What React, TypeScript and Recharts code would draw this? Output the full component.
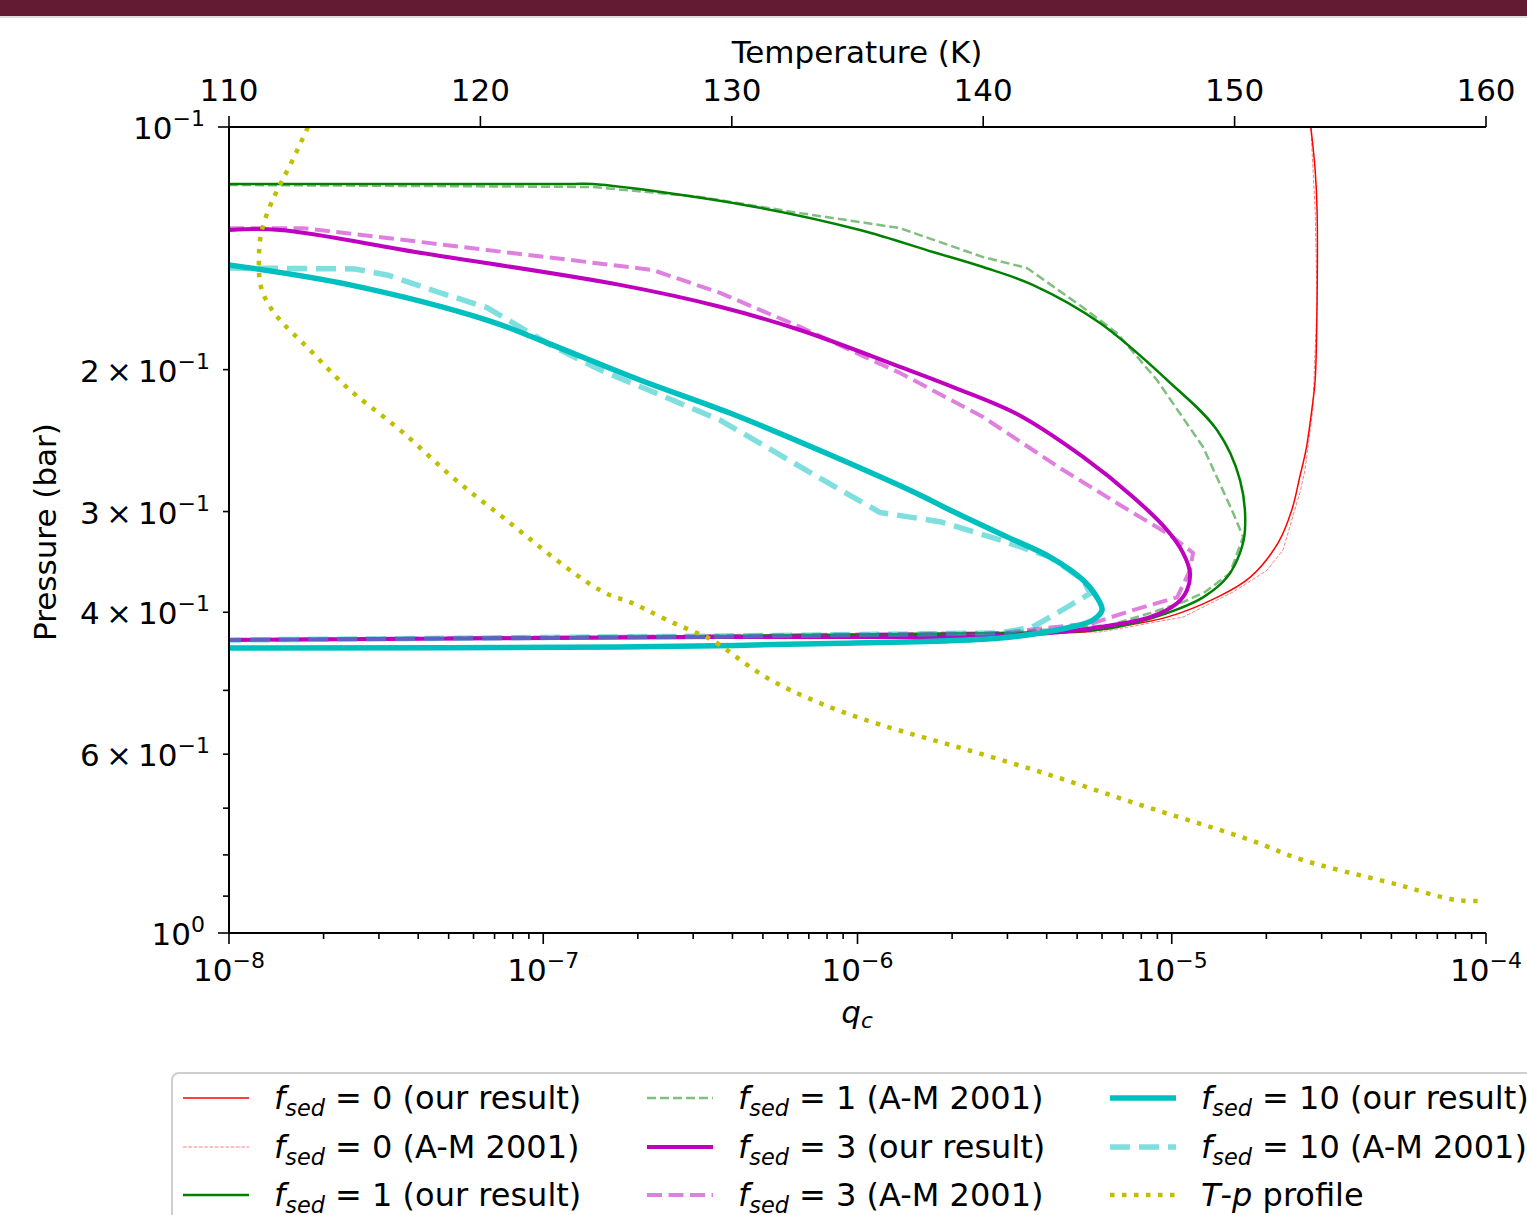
import React from "react";
import { LineChart, Line, XAxis, YAxis } from "recharts";

const FONT = "'DejaVu Sans', sans-serif";

type Pt = [number, number];

// condensate mixing ratio q_c vs pressure (bar)
const fsed0Ours: Pt[] = [
  [2.77e-5, 0.1], [2.86e-5, 0.1131], [2.9e-5, 0.1268], [2.9e-5, 0.1648], [2.86e-5, 0.206],
  [2.79e-5, 0.2245], [2.674e-5, 0.2516], [2.56e-5, 0.2708], [2.41e-5, 0.2987], [2.18e-5, 0.328],
  [1.775e-5, 0.362], [1.393e-5, 0.3833], [9.66e-6, 0.4056], [6.69e-6, 0.4172], [5.22e-6, 0.4232],
  [2.84e-6, 0.4244], [3.65e-7, 0.4281], [1e-8, 0.433],
];
const fsed0AM: Pt[] = [
  [2.77e-5, 0.1], [2.86e-5, 0.1268], [2.9e-5, 0.1648], [2.81e-5, 0.2245], [2.655e-5, 0.2664],
  [2.56e-5, 0.2838], [2.26e-5, 0.3347], [2.01e-5, 0.3548], [1.566e-5, 0.3776], [1.086e-5, 0.4056],
  [5.91e-6, 0.4232], [2.84e-6, 0.4244], [3.65e-7, 0.4281], [1e-8, 0.433],
];
const fsed1Ours: Pt[] = [
  [1e-8, 0.1177], [1.217e-7, 0.1177], [1.439e-7, 0.1177], [4.546e-7, 0.1253], [1.018e-6, 0.1342],
  [1.738e-6, 0.1429], [2.51e-6, 0.1492], [3.61e-6, 0.157], [5.91e-6, 0.1751], [9.66e-6, 0.206],
  [1.393e-5, 0.2377], [1.649e-5, 0.2742], [1.71e-5, 0.3162], [1.649e-5, 0.3376], [1.499e-5, 0.362],
  [1.258e-5, 0.3833], [9.66e-6, 0.401], [6.69e-6, 0.4172], [5.22e-6, 0.422], [2.84e-6, 0.4244],
  [3.65e-7, 0.4281], [1e-8, 0.433],
];
const fsed1AM: Pt[] = [
  [1e-8, 0.118], [1.439e-7, 0.1187], [3.155e-7, 0.1221], [6.56e-7, 0.1279], [1.018e-6, 0.1312],
  [1.365e-6, 0.1335], [2.51e-6, 0.145], [3.46e-6, 0.1496], [5.22e-6, 0.1675], [6.69e-6, 0.1801],
  [8.97e-6, 0.206], [1.258e-5, 0.2495], [1.566e-5, 0.3008], [1.686e-5, 0.3225],
  [1.532e-5, 0.3578], [1.276e-5, 0.3776], [1.086e-5, 0.3885], [8.53e-6, 0.401], [6.36e-6, 0.4149],
  [2.84e-6, 0.4244], [3.65e-7, 0.4281], [1e-8, 0.433],
];
const fsed3Ours: Pt[] = [
  [1e-8, 0.1342], [1.453e-8, 0.1342], [4.055e-8, 0.1432], [1.754e-7, 0.157], [3.65e-7, 0.1671],
  [6.56e-7, 0.1786], [1.365e-6, 0.1984], [1.969e-6, 0.2095], [3.218e-6, 0.227], [5.22e-6, 0.2566],
  [7.53e-6, 0.2877], [9.66e-6, 0.3162], [1.086e-5, 0.3376], [1.143e-5, 0.3578], [1.118e-5, 0.3756],
  [1.04e-5, 0.3898], [8.53e-6, 0.4056], [5.91e-6, 0.4172], [4.1e-6, 0.4244], [2.84e-6, 0.4281],
  [3.65e-7, 0.4293], [1e-8, 0.433],
];
const fsed3AM: Pt[] = [
  [1e-8, 0.1335], [1.72e-8, 0.1335], [3.184e-8, 0.1373], [6.62e-8, 0.1421], [1.987e-7, 0.1496],
  [2.234e-7, 0.1505], [3.65e-7, 0.1606], [6.56e-7, 0.177], [9.46e-7, 0.1891], [1.365e-6, 0.2019],
  [2.51e-6, 0.229], [4.41e-6, 0.2649], [6.84e-6, 0.2944], [9.87e-6, 0.3207], [1.169e-5, 0.3376],
  [1.143e-5, 0.3548], [1.04e-5, 0.3833], [7.53e-6, 0.3975], [5.62e-6, 0.4126], [2.84e-6, 0.4244],
  [3.65e-7, 0.4281], [1e-8, 0.433],
];
const fsed10Ours: Pt[] = [
  [1e-8, 0.1483], [2.427e-8, 0.157], [6.62e-8, 0.1736], [9.77e-8, 0.1838], [2.03e-7, 0.206],
  [3.926e-7, 0.2264], [8.17e-7, 0.2551], [1.58e-6, 0.2861], [1.969e-6, 0.2987], [2.99e-6, 0.3225],
  [4.1e-6, 0.3416], [5.22e-6, 0.3648], [5.78e-6, 0.3833], [6.0e-6, 0.3975], [5.62e-6, 0.409],
  [4.64e-6, 0.4184], [2.84e-6, 0.4305], [6.56e-7, 0.438], [1.754e-7, 0.4417], [1e-8, 0.443],
];
const fsed10AM: Pt[] = [
  [1e-8, 0.1496], [2.518e-8, 0.15], [3.184e-8, 0.1526], [4.592e-8, 0.1601], [6.62e-8, 0.1675],
  [1.05e-7, 0.1863], [1.516e-7, 0.2001], [2.354e-7, 0.215], [3.65e-7, 0.231], [5.66e-7, 0.2551],
  [8.79e-7, 0.2818], [1.18e-6, 0.3008], [1.83e-6, 0.3088], [2.84e-6, 0.3252], [4.1e-6, 0.3416],
  [5.22e-6, 0.3648], [5.5e-6, 0.3789], [4.64e-6, 0.3943], [3.61e-6, 0.4172], [2.84e-6, 0.4244],
  [3.65e-7, 0.4281], [1e-8, 0.433],
];
// temperature (K) vs pressure (bar)
const tpProfile: Pt[] = [
  [113.14, 0.1], [112.43, 0.1115], [111.83, 0.1214], [111.31, 0.1342], [111.19, 0.1462],
  [111.31, 0.1593], [112.03, 0.1736], [113.22, 0.1891], [114.81, 0.212], [116.8, 0.2376],
  [118.79, 0.2703], [120.78, 0.303], [122.77, 0.3397], [124.76, 0.3756], [125.95, 0.3885],
  [127.26, 0.4066], [128.62, 0.4244], [129.53, 0.4392], [130.73, 0.4677], [132.32, 0.4994],
  [135.1, 0.5412], [138.68, 0.5843], [142.66, 0.6368], [146.64, 0.6998], [150.62, 0.7667],
  [152.69, 0.8115], [155.59, 0.857], [157.1, 0.8818], [158.57, 0.9074], [159.68, 0.9127],
];

const qMajorTicks = [1e-8, 1e-7, 1e-6, 1e-5, 1e-4];
const qMinorMantissas = [2, 3, 4, 5, 6, 7, 8, 9];
const tempTicks = [110, 120, 130, 140, 150, 160];
const pressureLabelled = [
  { value: 0.1, mant: "", exp: "−1" },
  { value: 0.2, mant: "2", exp: "−1" },
  { value: 0.3, mant: "3", exp: "−1" },
  { value: 0.4, mant: "4", exp: "−1" },
  { value: 0.6, mant: "6", exp: "−1" },
  { value: 1, mant: "", exp: "0" },
];
const pressureMinor = [0.5, 0.7, 0.8, 0.9];

const qTicks = [
  ...qMajorTicks,
  ...qMajorTicks.slice(0, -1).flatMap((d) => qMinorMantissas.map((m) => m * d)),
];
const pTicks = [...pressureLabelled.map((t) => t.value), ...pressureMinor];

const toQ = (a: Pt[]) => a.map(([q, p]) => ({ q, p }));
const toT = (a: Pt[]) => a.map(([T, p]) => ({ T, p }));

// centripetal Catmull-Rom through the read points (the model curves are smooth)
const smoothCurve = (context: any) => {
  let pts: [number, number][] = [];
  return {
    areaStart() {},
    areaEnd() {},
    lineStart() {
      pts = [];
    },
    lineEnd() {
      if (!pts.length) return;
      context.moveTo(pts[0][0], pts[0][1]);
      const dist = (a: number[], b: number[]) => Math.hypot(a[0] - b[0], a[1] - b[1]);
      for (let i = 0; i < pts.length - 1; i++) {
        const p0 = pts[i - 1] || pts[i];
        const p1 = pts[i];
        const p2 = pts[i + 1];
        const p3 = pts[i + 2] || p2;
        const d01 = dist(p0, p1), d12 = dist(p1, p2), d23 = dist(p2, p3);
        const a01 = Math.sqrt(d01), a12 = Math.sqrt(d12), a23 = Math.sqrt(d23);
        let c1 = [p1[0], p1[1]];
        let c2 = [p2[0], p2[1]];
        if (a01 > 1e-6) {
          const A = 2 * d01 + 3 * a01 * a12 + d12;
          const N = 3 * a01 * (a01 + a12);
          c1 = [0, 1].map((j) => (p1[j] * A - p0[j] * d12 + p2[j] * d01) / N);
        }
        if (a23 > 1e-6) {
          const B = 2 * d23 + 3 * a23 * a12 + d12;
          const M = 3 * a23 * (a23 + a12);
          c2 = [0, 1].map((j) => (p2[j] * B + p1[j] * d23 - p3[j] * d12) / M);
        }
        context.bezierCurveTo(c1[0], c1[1], c2[0], c2[1], p2[0], p2[1]);
      }
    },
    point(x: number, y: number) {
      pts.push([+x, +y]);
    },
  };
};

type Series = {
  key: string;
  data: Pt[];
  fsed?: string;
  src?: string;
  color: string;
  width: number;
  dash?: string;
  opacity: number;
  smooth?: boolean;
};

const series: Series[] = [
  { key: "f0o", data: fsed0Ours, fsed: "0", src: "our result", color: "#ff0000", width: 1.5, opacity: 1, smooth: true },
  { key: "f0a", data: fsed0AM, fsed: "0", src: "A-M 2001", color: "#ff0000", width: 1, dash: "3.7 1.6", opacity: 0.5 },
  { key: "f1o", data: fsed1Ours, fsed: "1", src: "our result", color: "#008000", width: 2.5, opacity: 1, smooth: true },
  { key: "f1a", data: fsed1AM, fsed: "1", src: "A-M 2001", color: "#008000", width: 2.5, dash: "9 4", opacity: 0.5 },
  { key: "f3o", data: fsed3Ours, fsed: "3", src: "our result", color: "#bf00bf", width: 4, opacity: 1, smooth: true },
  { key: "f3a", data: fsed3AM, fsed: "3", src: "A-M 2001", color: "#bf00bf", width: 4, dash: "15 6.5", opacity: 0.5 },
  { key: "f10o", data: fsed10Ours, fsed: "10", src: "our result", color: "#00bfbf", width: 5.5, opacity: 1, smooth: true },
  { key: "f10a", data: fsed10AM, fsed: "10", src: "A-M 2001", color: "#00bfbf", width: 5.5, dash: "20 9", opacity: 0.5 },
];
const tpSeries: Series = { key: "tp", data: tpProfile, color: "#bfbf00", width: 4.5, dash: "4.5 7.5", opacity: 1 };

const QTick = (props: any) => {
  const { x, y, payload } = props;
  const lg = Math.log10(payload.value);
  const e = Math.round(lg);
  const major = Math.abs(lg - e) < 1e-6;
  return (
    <g>
      <line x1={x} x2={x} y1={y} y2={y + (major ? 11 : 6)} stroke="#000" strokeWidth={1.6} />
      {major && (
        <text x={x} y={y + 48} textAnchor="middle" fontSize={31} fill="#000" fontFamily={FONT}>
          10
          <tspan fontSize={22} dy={-13}>{`−${-e}`}</tspan>
        </text>
      )}
    </g>
  );
};

const TTick = (props: any) => {
  const { x, y, payload } = props;
  return (
    <g>
      <line x1={x} x2={x} y1={y} y2={y - 11} stroke="#000" strokeWidth={1.6} />
      <text x={x} y={y - 26} textAnchor="middle" fontSize={31} fill="#000" fontFamily={FONT}>
        {payload.value}
      </text>
    </g>
  );
};

const PTick = (props: any) => {
  const { x, y, payload } = props;
  const lab = pressureLabelled.find((t) => Math.abs(t.value - payload.value) < 1e-9);
  const len = lab && lab.mant === "" ? 11 : 6;
  return (
    <g>
      <line x1={x - len} x2={x} y1={y} y2={y} stroke="#000" strokeWidth={1.6} />
      {lab && (
        <text x={x - len - 13} y={y + 12} textAnchor="end" fontSize={31} fill="#000" fontFamily={FONT}>
          {lab.mant ? `${lab.mant}\u2009×\u200910` : "10"}
          <tspan fontSize={22} dy={-13}>{lab.exp}</tspan>
        </text>
      )}
    </g>
  );
};

const Fsed = () => (
  <>
    <i>f</i>
    <span style={{ fontSize: "0.7em", fontStyle: "italic", position: "relative", top: "0.3em" }}>sed</span>
  </>
);

const LegendItem = ({ s, left, top }: { s: Series; left: number; top: number }) => (
  <div style={{ position: "absolute", left, top: top - 20, height: 40, display: "flex", alignItems: "center", whiteSpace: "nowrap" }}>
    <svg width={66} height={40}>
      <line
        x1={0}
        x2={66}
        y1={20}
        y2={20}
        stroke={s.color}
        strokeOpacity={s.opacity}
        strokeWidth={s.width}
        strokeDasharray={s.dash}
      />
    </svg>
    <span style={{ marginLeft: 25, fontSize: 32, lineHeight: 1 }}>
      {s.fsed ? (
        <>
          <Fsed />
          {` = ${s.fsed} (${s.src})`}
        </>
      ) : (
        <>
          <i>T</i>-<i>p</i> profile
        </>
      )}
    </span>
  </div>
);

export default function App() {
  const legendCols = [
    [series[0], series[1], series[2]],
    [series[3], series[4], series[5]],
    [series[6], series[7], tpSeries],
  ];
  const colX = [183, 647, 1110];
  const rowY = [1098, 1147, 1195];

  return (
    <div style={{ position: "absolute", left: 0, top: 0, width: 1527, height: 1215, overflow: "hidden", background: "#fff", fontFamily: FONT, color: "#000" }}>
      {/* slide header band */}
      <div style={{ position: "absolute", left: 0, top: 0, width: 1527, height: 16, background: "#621b32" }} />
      <div style={{ position: "absolute", left: 0, top: 16, width: 1527, height: 2, background: "#e2dade" }} />

      <div style={{ position: "absolute", left: 0, top: 0 }}>
        <LineChart width={1527} height={1033} margin={{ top: 27, right: 41, left: 29, bottom: 0 }}>
          <XAxis
            xAxisId="q"
            dataKey="q"
            type="number"
            scale="log"
            domain={[1e-8, 1e-4]}
            allowDataOverflow
            ticks={qTicks}
            interval={0}
            tickSize={0}
            tickMargin={0}
            tickLine={false}
            tick={QTick}
            height={100}
            axisLine={{ stroke: "#000", strokeWidth: 2 }}
          />
          <XAxis
            xAxisId="T"
            dataKey="T"
            orientation="top"
            type="number"
            domain={[110, 160]}
            allowDataOverflow
            ticks={tempTicks}
            interval={0}
            tickSize={0}
            tickMargin={0}
            tickLine={false}
            tick={TTick}
            height={100}
            axisLine={{ stroke: "#000", strokeWidth: 2 }}
          />
          <YAxis
            yAxisId="p"
            type="number"
            scale="log"
            domain={[0.1, 1]}
            reversed
            allowDataOverflow
            ticks={pTicks}
            interval={0}
            tickSize={0}
            tickMargin={0}
            tickLine={false}
            tick={PTick}
            width={200}
            axisLine={{ stroke: "#000", strokeWidth: 2 }}
          />
          <YAxis
            yAxisId="r"
            orientation="right"
            type="number"
            scale="log"
            domain={[0.1, 1]}
            reversed
            allowDataOverflow
            tick={false}
            tickLine={false}
            width={0}
            axisLine={{ stroke: "#000", strokeWidth: 2 }}
          />
          {series.map((s) => (
            <Line
              key={s.key}
              xAxisId="q"
              yAxisId="p"
              data={toQ(s.data)}
              dataKey="p"
              type={(s.smooth ? smoothCurve : "linear") as any}
              stroke={s.color}
              strokeOpacity={s.opacity}
              strokeWidth={s.width}
              strokeDasharray={s.dash}
              strokeLinejoin="round"
              dot={false}
              activeDot={false}
              isAnimationActive={false}
            />
          ))}
          <Line
            key={tpSeries.key}
            xAxisId="T"
            yAxisId="p"
            data={toT(tpSeries.data)}
            dataKey="p"
            type="natural"
            stroke={tpSeries.color}
            strokeWidth={tpSeries.width}
            strokeDasharray={tpSeries.dash}
            dot={false}
            activeDot={false}
            isAnimationActive={false}
          />
        </LineChart>
      </div>

      {/* axis titles */}
      <div style={{ position: "absolute", left: 857, top: 52, transform: "translate(-50%, -50%)", fontSize: 31, lineHeight: 1, whiteSpace: "nowrap" }}>
        Temperature (K)
      </div>
      <div style={{ position: "absolute", left: 45, top: 532, transform: "translate(-50%, -50%) rotate(-90deg)", fontSize: 31, lineHeight: 1, whiteSpace: "nowrap" }}>
        Pressure (bar)
      </div>
      <div style={{ position: "absolute", left: 857, top: 1012, transform: "translate(-50%, -50%)", fontSize: 31, lineHeight: 1, whiteSpace: "nowrap" }}>
        <i>q</i>
        <span style={{ fontSize: "0.7em", fontStyle: "italic", position: "relative", top: "0.25em" }}>c</span>
      </div>

      {/* legend */}
      <div style={{ position: "absolute", left: 171, top: 1072, width: 1420, height: 200, border: "2px solid #cfcfcf", borderRadius: 8, background: "#fff", boxSizing: "border-box" }} />
      {legendCols.map((col, ci) =>
        col.map((s, ri) => <LegendItem key={s.key} s={s} left={colX[ci]} top={rowY[ri]} />)
      )}
    </div>
  );
}
